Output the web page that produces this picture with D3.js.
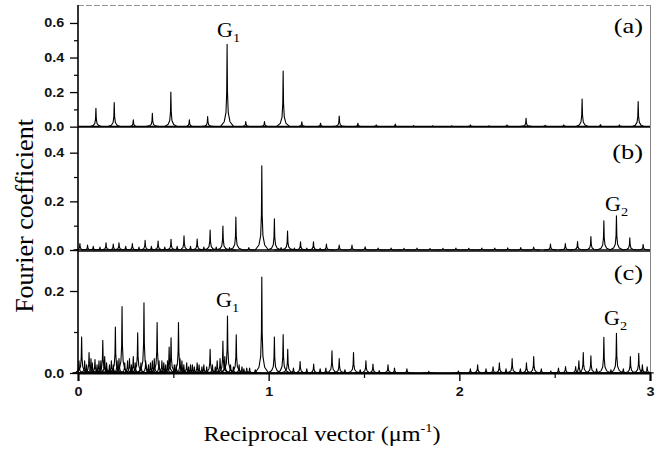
<!DOCTYPE html>
<html><head><meta charset="utf-8">
<script src="https://cdn.jsdelivr.net/npm/d3@7"></script>
<style>body{margin:0;background:#fff}</style></head>
<body>
<svg id="chart" width="672" height="449"></svg>
<script>
// ---------------- data ----------------
const panelLabels = ["(a)", "(b)", "(c)"];
// [reciprocal vector (um^-1), Fourier coefficient]
const peaksA = [[0.094,0.106],[0.19,0.139],[0.29,0.039],[0.39,0.077],[0.487,0.2],[0.584,0.039],[0.68,0.058],
 [0.782,0.476],[0.88,0.029],[0.978,0.029],[1.076,0.322],[1.174,0.028],[1.272,0.02],[1.37,0.062],[1.468,0.02],
 [1.564,0.01],[1.664,0.015],[1.76,0.006],[1.86,0.005],[1.96,0.005],[2.058,0.01],[2.155,0.005],[2.25,0.01],
 [2.35,0.048],[2.45,0.008],[2.548,0.01],[2.644,0.16],[2.74,0.012],[2.84,0.01],[2.938,0.145]];
const peaksB = [[0.01,0.027],[0.05,0.02],[0.08,0.015],[0.115,0.012],[0.147,0.03],[0.185,0.025],[0.215,0.03],
 [0.25,0.015],[0.285,0.027],[0.32,0.012],[0.352,0.04],[0.385,0.015],[0.42,0.037],[0.455,0.012],[0.488,0.044],
 [0.52,0.015],[0.556,0.058],[0.59,0.015],[0.625,0.045],[0.66,0.012],[0.693,0.082],[0.725,0.012],[0.76,0.099],
 [0.795,0.01],[0.828,0.135],[0.896,0.01],
 [0.964,0.346],[1.03,0.128],[1.065,0.01],[1.099,0.078],[1.135,0.008],[1.167,0.034],[1.2,0.008],[1.235,0.034],
 [1.27,0.007],[1.303,0.025],[1.37,0.02],[1.437,0.02],
 [1.506,0.013],[1.574,0.008],[1.642,0.008],[1.71,0.007],[1.778,0.008],[1.846,0.006],[1.914,0.007],[1.982,0.008],
 [2.05,0.007],[2.118,0.008],[2.186,0.008],[2.254,0.009],[2.322,0.01],[2.39,0.012],[2.478,0.025],[2.556,0.027],
 [2.62,0.035],[2.69,0.055],[2.758,0.12],[2.824,0.141],[2.894,0.05],[2.964,0.023]];
const peaksC = [[0.005,0.03],[0.019,0.088],[0.035,0.03],[0.045,0.02],[0.058,0.05],[0.068,0.035],[0.075,0.025],
 [0.089,0.033],[0.1,0.02],[0.11,0.03],[0.12,0.03],
 [0.13,0.08],[0.14,0.04],[0.15,0.025],[0.165,0.02],[0.175,0.03],[0.185,0.02],[0.196,0.112],[0.205,0.03],
 [0.215,0.035],[0.231,0.162],[0.245,0.025],[0.26,0.03],[0.27,0.035],[0.28,0.02],[0.29,0.04],[0.3,0.025],
 [0.313,0.098],[0.33,0.025],[0.346,0.171],[0.355,0.03],[0.37,0.02],[0.38,0.025],[0.39,0.03],[0.4,0.035],
 [0.415,0.123],[0.425,0.03],[0.44,0.03],[0.45,0.025],[0.46,0.02],[0.47,0.03],
 [0.478,0.063],[0.488,0.086],[0.505,0.02],[0.515,0.02],[0.527,0.123],[0.535,0.035],[0.545,0.03],[0.555,0.02],
 [0.57,0.025],[0.58,0.015],[0.59,0.02],[0.6,0.02],[0.61,0.015],[0.625,0.025],[0.635,0.02],
 [0.65,0.015],[0.66,0.02],[0.675,0.015],[0.693,0.058],[0.705,0.02],[0.72,0.015],[0.73,0.03],[0.745,0.035],
 [0.76,0.078],[0.77,0.04],[0.784,0.139],[0.8,0.02],[0.815,0.015],[0.83,0.093],[0.845,0.02],[0.86,0.015],
 [0.87,0.01],[0.885,0.012],
 [0.9,0.012],[0.93,0.008],[0.964,0.234],[1.03,0.088],[1.076,0.094],[1.1,0.058],[1.13,0.012],[1.165,0.028],
 [1.2,0.01],[1.236,0.022],[1.27,0.01],[1.3,0.012],[1.332,0.054],[1.37,0.035],[1.4,0.008],[1.445,0.05],
 [1.48,0.008],[1.51,0.03],[1.547,0.022],[1.58,0.006],[1.626,0.02],[1.66,0.012],[1.725,0.01],[1.84,0.004],
 [1.995,0.005],[2.058,0.01],[2.096,0.02],[2.14,0.01],[2.177,0.015],[2.21,0.025],[2.245,0.01],[2.277,0.035],
 [2.32,0.01],[2.352,0.025],[2.39,0.04],[2.43,0.01],[2.48,0.005],[2.52,0.012],[2.557,0.016],[2.61,0.016],
 [2.627,0.03],[2.65,0.05],[2.69,0.042],[2.72,0.01],[2.758,0.087],[2.795,0.008],[2.824,0.097],[2.86,0.01],
 [2.897,0.04],[2.941,0.048],[2.96,0.02],[2.985,0.015]];
const yDomains = [[-0.002, 0.704], [-0.004, 0.5055], [0, 0.2976]];
const yMajorTicks = [[0, 0.2, 0.4, 0.6], [0, 0.2, 0.4], [0, 0.2]];
const yMinorTicks = [[0.1, 0.3, 0.5], [0.1, 0.3], [0.1]];
const xMajorTicks = [0, 1, 2, 3];
const xMinorTicks = [0.5, 1.5, 2.5];
// annotations: [panel index, text, subscript]
const annotations = [[0, "G", "1"], [1, "G", "2"], [2, "G", "1"], [2, "G", "2"]];
const xTitle = "Reciprocal vector (\u03bcm";
const yTitle = "Fourier coefficient";

// ---------------- layout ----------------
const svg = d3.select("#chart");
const left = 78, right = 650;
const tops = [5, 127, 251], bottoms = [127, 251, 373];
const x = d3.scaleLinear().domain([0, 3]).range([left, right]);
const ys = yDomains.map((d, i) => d3.scaleLinear().domain(d).range([bottoms[i], tops[i]]));
const allPeaks = [peaksA, peaksB, peaksC];
const sans = "'Liberation Sans', Arial, sans-serif";
const serif = "'Liberation Serif', 'Times New Roman', serif";

// peak glyph: sharp spike with a small Lorentzian-like skirt
function peakPath(p, y) {
  const [c, h] = p;
  const pts = [[c - 0.035, 0], [c - 0.015, 0.06 * h], [c - 0.006, 0.17 * h], [c - 0.002, 0.42 * h], [c, h],
               [c + 0.002, 0.42 * h], [c + 0.006, 0.17 * h], [c + 0.015, 0.06 * h], [c + 0.035, 0]];
  return d3.line().x(d => x(d[0])).y(d => y(d[1]))(pts);
}

allPeaks.forEach((peaks, i) => {
  const y = ys[i];
  const g = svg.append("g");
  g.append("line").attr("x1", left).attr("x2", right).attr("y1", tops[i] + 0.5).attr("y2", tops[i] + 0.5)
    .attr("stroke", i === 0 ? "#999" : "#444").attr("stroke-width", 1).attr("stroke-dasharray", i === 0 ? "6,2" : null);
  g.append("line").attr("x1", right + 0.5).attr("x2", right + 0.5).attr("y1", tops[i]).attr("y2", bottoms[i])
    .attr("stroke", "#888").attr("stroke-width", 1);
  g.append("line").attr("x1", x(0)).attr("x2", x(3)).attr("y1", y(0)).attr("y2", y(0))
    .attr("stroke", "#000").attr("stroke-width", i === 0 ? 2 : 1.4);
  g.selectAll("path.pk").data(peaks).join("path").attr("class", "pk")
    .attr("d", d => peakPath(d, y)).attr("fill", "none").attr("stroke", "#000")
    .attr("stroke-width", 1.1).attr("stroke-linejoin", "round");
  const ax = g.append("g").attr("transform", `translate(${left},0)`)
    .call(d3.axisLeft(y).tickValues(yMajorTicks[i]).tickSize(8).tickPadding(0).tickFormat(d3.format(".1f")));
  ax.select(".domain").remove();
  ax.selectAll("line").attr("stroke", "#000").attr("stroke-width", 1.3);
  ax.selectAll("text").attr("x", -12).attr("transform", "scale(1.15,1)")
    .attr("font-family", sans).attr("font-size", 12.5).attr("font-weight", "bold").attr("fill", "#111");
  const axm = g.append("g").attr("transform", `translate(${left},0)`)
    .call(d3.axisLeft(y).tickValues(yMinorTicks[i]).tickSize(4).tickFormat(""));
  axm.select(".domain").remove();
  axm.selectAll("line").attr("stroke", "#000").attr("stroke-width", 1.2);
  g.append("text").attr("transform", `translate(643,${[33, 159, 280][i]}) scale(1.2,1)`)
    .attr("text-anchor", "end").attr("font-family", serif).attr("font-size", 22).text(panelLabels[i]);
});

svg.append("line").attr("x1", left).attr("x2", left).attr("y1", tops[0]).attr("y2", bottoms[2])
  .attr("stroke", "#000").attr("stroke-width", 1.6);

const xa = svg.append("g").attr("transform", `translate(0,${bottoms[2]})`)
  .call(d3.axisBottom(x).tickValues(xMajorTicks).tickSize(8).tickFormat(d3.format("d")));
xa.select(".domain").attr("stroke-width", 2).attr("stroke", "#000");
xa.selectAll("line").attr("stroke-width", 1.4);
xa.selectAll("text").attr("y", 14).attr("font-family", sans).attr("font-size", 12.5).attr("font-weight", "bold")
  .attr("transform", "scale(1.15,1)").attr("fill", "#111");
const xam = svg.append("g").attr("transform", `translate(0,${bottoms[2]})`)
  .call(d3.axisBottom(x).tickValues(xMinorTicks).tickSize(5).tickFormat(""));
xam.select(".domain").remove();
xam.selectAll("line").attr("stroke-width", 1.2);

const annPos = [[217, 37], [605, 211], [216, 307], [604, 325]];
annotations.forEach((a, k) => {
  const t = svg.append("text").attr("transform", `translate(${annPos[k][0]},${annPos[k][1]}) scale(1.1,1)`)
    .attr("font-family", serif).attr("font-size", 20);
  t.append("tspan").text(a[1]);
  t.append("tspan").attr("dy", 5).attr("font-size", 13).text(a[2]);
});

const xt = svg.append("text").attr("transform", "translate(322,441) scale(1.1,1)")
  .attr("text-anchor", "middle").attr("font-family", serif).attr("font-size", 22);
xt.append("tspan").text(xTitle);
xt.append("tspan").attr("dy", -9).attr("font-size", 13).text("-1");
xt.append("tspan").attr("dy", 9).text(")");
svg.append("text").attr("transform", "translate(33,216) rotate(-90)").attr("text-anchor", "middle")
  .attr("font-family", serif).attr("font-size", 26).text(yTitle);
</script>
</body></html>
